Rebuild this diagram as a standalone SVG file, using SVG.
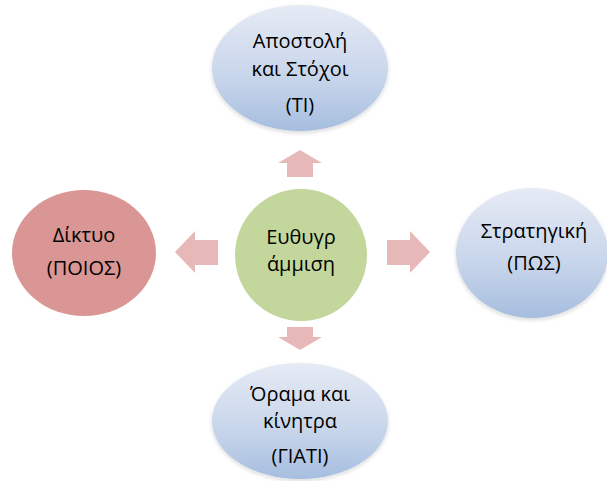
<svg xmlns="http://www.w3.org/2000/svg" width="607" height="481" viewBox="0 0 607 481">
<defs>
<linearGradient id="blue" x1="0" y1="0" x2="0" y2="1">
<stop offset="0" stop-color="#e6ebf5"/>
<stop offset="0.6" stop-color="#c6d4ea"/>
<stop offset="1" stop-color="#a6bedf"/>
</linearGradient>
<filter id="glow" x="-20%" y="-20%" width="140%" height="140%">
<feGaussianBlur in="SourceAlpha" stdDeviation="2"/>
<feOffset dy="2"/>
<feComponentTransfer><feFuncA type="linear" slope="0.15"/></feComponentTransfer>
<feMerge><feMergeNode/><feMergeNode in="SourceGraphic"/></feMerge>
</filter>
</defs>
<style>
text{font-family:"Open Sans","Liberation Sans",sans-serif;font-size:20px;fill:#000;text-anchor:middle}
.b{fill:url(#blue);filter:url(#glow)}
.arr{fill:#e6b9b8}
</style>
<g id="connectors">
<polygon class="arr" points="300,150 322,163 313,163 313,177 287,177 287,163 278,163"/>
<polygon class="arr" points="430,252 410,231 410,240 387,240 387,265 410,265 410,273"/>
<polygon class="arr" points="175,252 195,231 195,240 218,240 218,265 195,265 195,273"/>
<polygon class="arr" points="300,350 322,337 313,337 313,327 287,327 287,337 278,337"/>
</g>
<g id="top">
<ellipse class="b" cx="300" cy="68" rx="88" ry="63"/>
<text x="300" y="48">Αποστολή</text>
<text x="300" y="76">και Στόχοι</text>
<text x="300" y="112">(ΤΙ)</text>
</g>
<g id="left">
<ellipse cx="84" cy="253" rx="72" ry="63" fill="#d99694"/>
<text x="84" y="242">Δίκτυο</text>
<text x="84" y="275">(ΠΟΙΟΣ)</text>
</g>
<g id="center">
<circle cx="301" cy="255" r="66" fill="#c3d69b"/>
<text x="301" y="244">Ευθυγρ</text>
<text x="301" y="271">άμμιση</text>
</g>
<g id="right">
<ellipse class="b" cx="532" cy="253" rx="76" ry="65"/>
<text x="534" y="238">Στρατηγική</text>
<text x="534" y="270">(ΠΩΣ)</text>
</g>
<g id="bottom">
<ellipse class="b" cx="300" cy="421" rx="88" ry="58"/>
<text x="300" y="401">Όραμα και</text>
<text x="300" y="428">κίνητρα</text>
<text x="300" y="463">(ΓΙΑΤΙ)</text>
</g>
</svg>
